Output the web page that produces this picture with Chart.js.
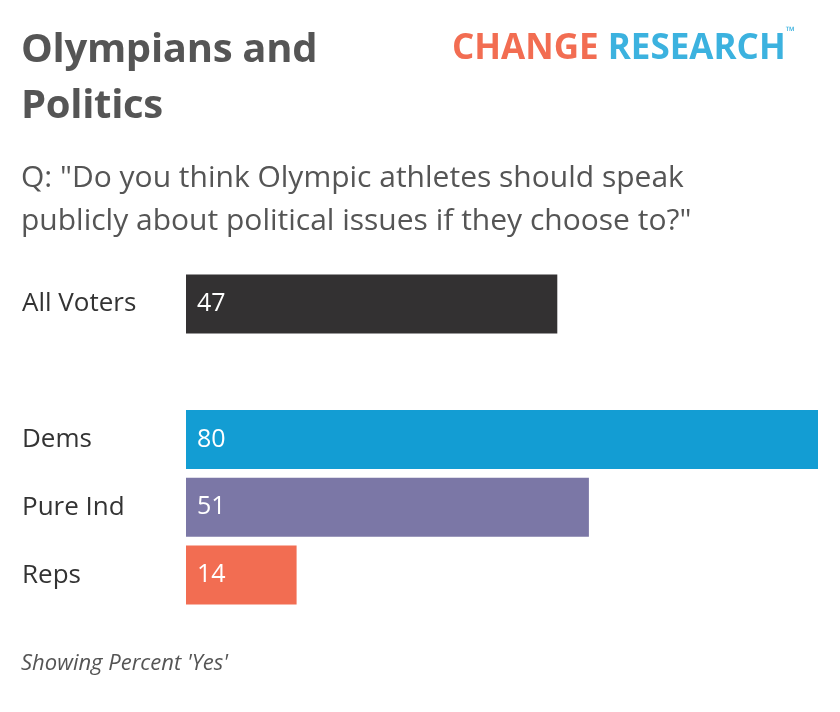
<!DOCTYPE html>
<html><head><meta charset="utf-8">
<script src="https://cdn.jsdelivr.net/npm/chart.js@4"></script>
<style>
body{margin:0;background:#fff;font-family:"Open Sans",sans-serif;}
#wrap{position:relative;width:840px;height:712px;overflow:hidden}
canvas{position:absolute;left:0;top:0}
.t{position:absolute;color:#555;white-space:nowrap}
</style></head><body>
<div id="wrap">
<canvas id="c" width="840" height="712"></canvas>
<div class="t" style="left:21px;top:19px;font-size:40px;font-weight:700;line-height:56px;color:#555;letter-spacing:-0.3px">Olympians and<br>Politics</div>
<div class="t" style="left:452px;top:22px;font-size:35px;font-weight:700;letter-spacing:0px"><span style="color:#f26d52">CHANGE</span> <span style="color:#3cb2df">RESEARCH</span><sup style="font-size:12px;color:#3cb2df;vertical-align:top">™</sup></div>
<div class="t" style="left:21px;top:154px;font-size:30px;line-height:43px;color:#555">Q: "Do you think Olympic athletes should speak<br>publicly about political issues if they choose to?"</div>
<div class="t" style="left:21px;top:646px;font-size:22px;font-style:italic;color:#555">Showing Percent 'Yes'</div>
</div>
<script>
const categories=["All Voters","","Dems","Pure Ind","Reps"];
const values=[47,null,80,51,14];
const colors=["#333132","#ffffff","#139dd3","#7b77a6","#f26d52"];
const labelPlugin={id:'lbl',afterDatasetsDraw(ch){
 const ctx=ch.ctx,y=ch.scales.y,meta=ch.getDatasetMeta(0);
 ctx.save();ctx.textBaseline='middle';
 categories.forEach((c,i)=>{
  const yy=y.getPixelForValue(i);
  ctx.fillStyle='#333';ctx.font='26px "Open Sans", sans-serif';ctx.textAlign='left';
  ctx.fillText(c,22,yy);
  if(values[i]!=null){ctx.fillStyle='#fff';ctx.font='25px "Open Sans", sans-serif';
   ctx.fillText(String(values[i]),meta.data[i].base+11,yy);}
 });ctx.restore();}};
new Chart(document.getElementById('c'),{type:'bar',
 data:{labels:categories,datasets:[{data:values,backgroundColor:colors,barPercentage:0.87,categoryPercentage:1}]},
 options:{indexAxis:'y',responsive:false,animation:false,
  layout:{padding:{left:186,right:22,top:270,bottom:103}},
  plugins:{legend:{display:false},tooltip:{enabled:false}},
  scales:{x:{display:false,min:0,max:80},y:{display:false}}},
 plugins:[labelPlugin]});
</script></body></html>
